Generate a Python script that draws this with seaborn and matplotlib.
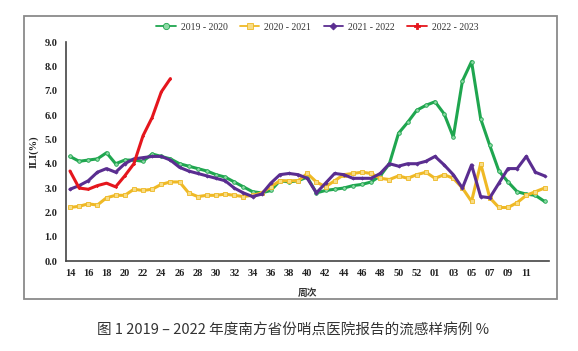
import matplotlib

matplotlib.use("Agg")
import matplotlib.pyplot as plt
from matplotlib.patches import Rectangle
import numpy as np
import pandas as pd
import seaborn as sns

# ISO weeks shown on the x axis: week 14 of one year to week 13 of the next
WEEKS = list(range(14, 54)) + list(range(1, 14))

ILI_2019_2020 = [4.3, 4.1, 4.15, 4.2, 4.45, 4.0, 4.15, 4.15, 4.1, 4.4,
                 4.3, 4.2, 4.0, 3.9, 3.8, 3.7, 3.55, 3.45, 3.25, 3.05,
                 2.85, 2.8, 2.9, 3.3, 3.25, 3.3, 3.45, 2.8, 2.9, 2.95,
                 3.0, 3.1, 3.15, 3.25, 3.5, 4.0, 5.25, 5.7, 6.2, 6.4,
                 6.55, 6.05, 5.1, 7.4, 8.2, 5.85, 4.75, 3.7, 3.25, 2.85,
                 2.75, 2.7, 2.45]
ILI_2020_2021 = [2.2, 2.25, 2.35, 2.3, 2.6, 2.7, 2.7, 2.95, 2.9, 2.95,
                 3.15, 3.25, 3.25, 2.8, 2.65, 2.7, 2.7, 2.75, 2.7, 2.65,
                 2.7, 2.8, 3.05, 3.3, 3.3, 3.3, 3.6, 3.25, 3.05, 3.3,
                 3.55, 3.6, 3.65, 3.6, 3.4, 3.35, 3.5, 3.4, 3.55, 3.65,
                 3.4, 3.55, 3.4, 3.0, 2.45, 4.0, 2.6, 2.2, 2.2, 2.4,
                 2.7, 2.85, 3.0]
ILI_2021_2022 = [2.95, 3.1, 3.3, 3.65, 3.8, 3.65, 4.0, 4.2, 4.25, 4.3,
                 4.3, 4.15, 3.85, 3.7, 3.6, 3.5, 3.4, 3.3, 3.0, 2.8,
                 2.65, 2.75, 3.2, 3.55, 3.6, 3.55, 3.4, 2.8, 3.2, 3.6,
                 3.55, 3.4, 3.4, 3.4, 3.6, 4.0, 3.9, 4.0, 4.0, 4.1,
                 4.3, 3.95, 3.55, 3.0, 3.95, 2.65, 2.6, 3.2, 3.8, 3.8,
                 4.3, 3.65, 3.5]
ILI_2022_2023 = [3.7, 3.0, 2.95, 3.1, 3.2, 3.05, 3.5, 4.0, 5.15, 5.9,
                 6.95, 7.5]

SEASONS = ["2019 - 2020", "2020 - 2021", "2021 - 2022", "2022 - 2023"]
SERIES = [ILI_2019_2020, ILI_2020_2021, ILI_2021_2022, ILI_2022_2023]
COLORS = ["#1fa64f", "#efb925", "#5a2d90", "#e5161d"]
FACES = ["#8fd9a6", "#f7dc86", "#5a2d90", "#e5161d"]
MARKERS = ["o", "s", "D", "P"]
MSIZES = [2.6, 2.4, 1.6, 1.2]

CAPTION = "图 1 2019 – 2022 年度南方省份哨点医院报告的流感样病例 %"

sns.set_style("white")
plt.rcParams["font.family"] = ["Liberation Serif", "Noto Sans CJK SC", "DejaVu Sans"]

fig = plt.figure(figsize=(5.78, 3.51), dpi=100)
ax = fig.add_axes([0.114, 0.2564, 0.836, 0.6236])

for season, vals, col, face, mk, ms in zip(SEASONS, SERIES, COLORS, FACES, MARKERS, MSIZES):
    df = pd.DataFrame({"idx": np.arange(len(vals)), "ili": vals})
    sns.lineplot(data=df, x="idx", y="ili", ax=ax, color=col, lw=2.2,
                 marker=mk, markersize=ms,
                 markerfacecolor=face, markeredgecolor=col,
                 markeredgewidth=0.6, label=season)

ax.set_xlim(-0.45, 52.5)
ax.set_ylim(0, 9)
ax.set_yticks(np.arange(0, 9.1, 1.0))
ax.set_yticklabels([f"{v:.1f}" for v in np.arange(0, 9.1, 1.0)])
tick_pos = list(range(0, len(WEEKS) - 1, 2))
ax.set_xticks(tick_pos)
ax.set_xticklabels([f"{WEEKS[i]:02d}" for i in tick_pos])
ax.tick_params(axis="both", direction="inout", length=4, width=1.0,
               color="#333333", labelsize=7.5, labelcolor="#222222", pad=4)
for lab in ax.get_xticklabels() + ax.get_yticklabels():
    lab.set_fontweight("bold")

for side in ["top", "right"]:
    ax.spines[side].set_visible(False)
for side in ["left", "bottom"]:
    ax.spines[side].set_color("#444444")
    ax.spines[side].set_linewidth(1.2)

ax.set_ylabel("ILI(%)", fontsize=7.5, fontweight="bold", color="#222222", labelpad=4)
ax.set_xlabel("周次", fontsize=7, fontweight="bold", color="#333333",
              family=["Noto Sans CJK SC", "DejaVu Sans"], labelpad=7)

leg = ax.legend(loc="lower center", bbox_to_anchor=(0.52, 1.03), ncol=4,
                frameon=False, fontsize=7, handlelength=2.0, columnspacing=1.3,
                handletextpad=0.5, borderaxespad=0)
for t in leg.get_texts():
    t.set_color("#333333")
for h, ms in zip(leg.get_lines(), [4.5, 4, 3.5, 4.5]):
    h.set_markersize(ms)
    h.set_linewidth(1.3)

fig.patches.append(Rectangle((0.0415, 0.148), 0.922, 0.806, transform=fig.transFigure,
                             fill=False, edgecolor="#8a8a8a", lw=1.3))

fig.text(0.507, 0.057, CAPTION, ha="center", va="center", fontsize=10.5,
         color="#333333", family=["Noto Sans CJK SC", "DejaVu Sans"])

fig.savefig("out.png", dpi=100, facecolor="white")
